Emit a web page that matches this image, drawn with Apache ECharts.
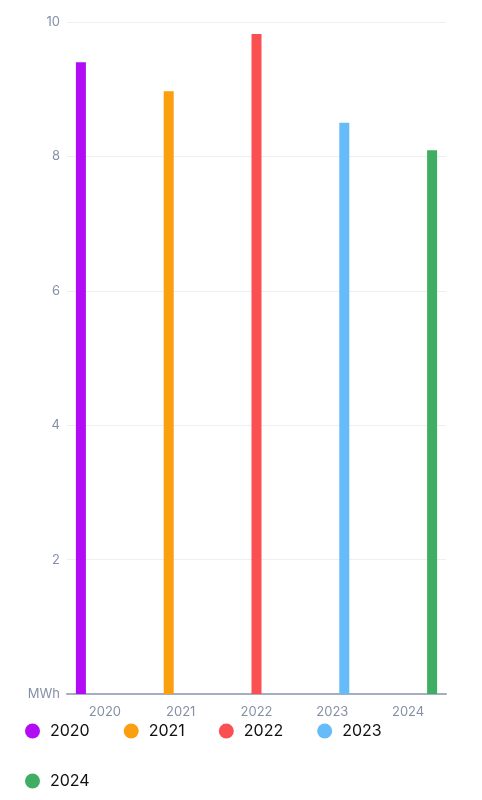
<!DOCTYPE html>
<html>
<head>
<meta charset="utf-8">
<script src="https://cdn.jsdelivr.net/npm/echarts@6/dist/echarts.min.js"></script>
<style>html,body{margin:0;padding:0;background:#fff}#c{width:482px;height:800px}</style>
</head>
<body>
<div id="c"></div>
<script>
const categories = ['2020', '2021', '2022', '2023', '2024'];
const seriesNames = ['2020', '2021', '2022', '2023', '2024'];
const seriesValues = [9.40, 8.97, 9.82, 8.50, 8.09];
const seriesColors = ['#b20cf5', '#fb9f0f', '#fb5052', '#66bbf9', '#3fae62'];
const yTicks = [0, 2, 4, 6, 8, 10];
const unitLabel = 'MWh';

const chart = echarts.init(document.getElementById('c'));
const series = seriesNames.map((name, i) => ({
  name: name,
  type: 'bar',
  barWidth: 10,
  barGap: '20%',
  data: categories.map((c, j) => (j === i ? seriesValues[i] : null)),
  itemStyle: { color: seriesColors[i] }
}));

chart.setOption({
  animation: false,
  backgroundColor: '#fff',
  grid: { left: 67, right: 36, top: 22, bottom: 106, containLabel: false },
  legend: {
    left: 25, top: 723, width: 380,
    padding: 0,
    itemWidth: 25, itemHeight: 15, itemGap: 34,
    icon: 'circle',
    textStyle: { fontSize: 16, color: '#111', fontFamily: 'Inter, Roboto, sans-serif' },
    data: seriesNames
  },
  xAxis: {
    type: 'category',
    data: categories,
    axisLine: { lineStyle: { color: '#a5aec0', width: 2 } },
    axisTick: { show: false },
    axisLabel: { color: '#8590a6', fontSize: 13, margin: 12, fontFamily: 'Inter, Roboto, sans-serif' }
  },
  yAxis: {
    type: 'value',
    min: yTicks[0], max: yTicks[yTicks.length - 1], interval: 2,
    axisLine: { show: false },
    axisTick: { show: false },
    splitLine: { lineStyle: { color: '#eeeff2' } },
    axisLabel: {
      color: '#8590a6', fontSize: 13, margin: 7, fontFamily: 'Inter, Roboto, sans-serif',
      formatter: v => (v === 0 ? unitLabel : String(v))
    }
  },
  series: series
});
</script>
</body>
</html>
